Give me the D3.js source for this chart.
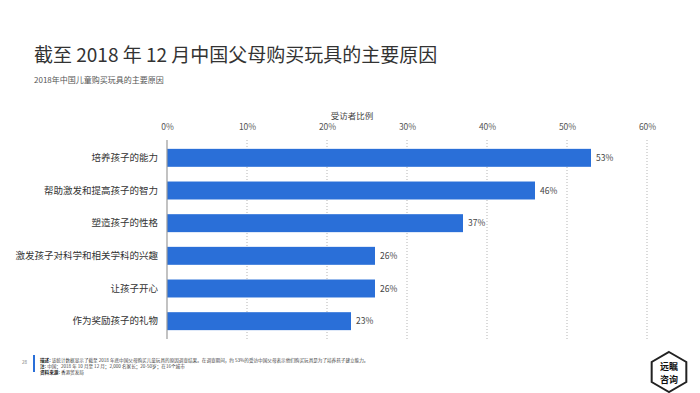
<!DOCTYPE html>
<html><head><meta charset="utf-8">
<script src="https://cdn.jsdelivr.net/npm/d3@7"></script>
<style>body{margin:0;background:#fff}svg{display:block}text{font-family:"Noto Sans CJK SC","Noto Sans",sans-serif}</style>
</head><body><svg id="c" width="700" height="393"></svg>
<script>
const categories = ["培养孩子的能力","帮助激发和提高孩子的智力","塑造孩子的性格","激发孩子对科学和相关学科的兴趣","让孩子开心","作为奖励孩子的礼物"];
const values = [53,46,37,26,26,23];
const tickValues = [0,10,20,30,40,50,60];
const titleText = "截至 2018 年 12 月中国父母购买玩具的主要原因";
const subtitleText = "2018年中国儿童购买玩具的主要原因";
const axisTitle = "受访者比例";
const logoLines = ["远瞩","咨询"];
const footerLines = [
  ["描述: ","该统计数据显示了截至 2018 年底中国父母购买儿童玩具的原因调查结果。在调查期间，约 53%的受访中国父母表示他们购买玩具是为了培养孩子建立能力。"],
  ["注: ","中国；2018 年 10 月至 12 月；2,000 名家长；20-50岁；在16个城市"],
  ["资料来源: ","香港贸发局"]
];

const svg = d3.select("#c");
const x = d3.scaleLinear().domain([0,60]).range([167,647]);
const y = d3.scaleBand().domain(categories).range([141.5,337.5]).paddingInner(0.45).paddingOuter(0.225);

svg.append("text").attr("x",34).attr("y",62).attr("font-size",19).attr("fill","#333").text(titleText);
svg.append("text").attr("x",34).attr("y",83).attr("font-size",8).attr("fill","#555").text(subtitleText);
svg.append("text").attr("x",352).attr("y",119).attr("font-size",8.5).attr("fill","#444").attr("text-anchor","middle").text(axisTitle);

// gridlines
svg.append("g").selectAll("line").data(tickValues.filter(d=>d>0)).join("line")
  .attr("x1",d=>x(d)).attr("x2",d=>x(d)).attr("y1",140).attr("y2",339)
  .attr("stroke","#b5b5b5").attr("stroke-width",1).attr("stroke-dasharray","1,2");

// top axis tick labels
const ax = d3.axisTop(x).tickValues(tickValues).tickFormat(d=>d+"%").tickSize(0);
const axg = svg.append("g").attr("transform","translate(0,133)").call(ax);
axg.select(".domain").remove();
axg.selectAll("text").attr("font-size",8.5).attr("fill","#555").attr("font-family",'"Noto Sans CJK SC","Noto Sans",sans-serif');

// bars
svg.append("g").selectAll("rect").data(categories).join("rect")
  .attr("x",x(0)).attr("y",d=>y(d)).attr("width",(d,i)=>x(values[i])-x(0)).attr("height",y.bandwidth())
  .attr("fill","#2a6fd8");

svg.append("g").selectAll("text").data(categories).join("text")
  .attr("x",(d,i)=>x(values[i])+5).attr("y",d=>y(d)+y.bandwidth()/2+3).attr("font-size",8.5).attr("fill","#444")
  .text((d,i)=>values[i]+"%");

// category labels
const yax = d3.axisLeft(y).tickSize(0).tickPadding(9);
const yg = svg.append("g").attr("transform",`translate(${x(0)},0)`).call(yax);
yg.select(".domain").remove();
yg.selectAll("text").attr("font-size",9.5).attr("fill","#333").attr("font-family",'"Noto Sans CJK SC",sans-serif');

svg.append("line").attr("x1",x(0)).attr("x2",x(0)).attr("y1",140).attr("y2",339).attr("stroke","#9a9a9a").attr("stroke-width",1.2);

// footer
svg.append("text").attr("x",22).attr("y",364).attr("font-size",4.5).attr("fill","#777").text("28");
svg.append("rect").attr("x",33).attr("y",355).attr("width",2).attr("height",17).attr("fill","#2a6fd8");
footerLines.forEach((l,i)=>{
  const t = svg.append("text").attr("x",40).attr("y",362+i*5.8).attr("font-size",4.6).attr("fill","#444");
  t.append("tspan").attr("font-weight","bold").attr("fill","#222").text(l[0]);
  t.append("tspan").text(l[1]);
});

// logo
const cx=669, cy=372, r=20;
const hex = d3.range(6).map(k=>{const a=Math.PI/3*k - Math.PI/2; return [cx+r*Math.cos(a), cy+r*Math.sin(a)];});
svg.append("polygon").attr("points",hex.map(p=>p.join(",")).join(" ")).attr("fill","#fff").attr("stroke","#222").attr("stroke-width",2);
svg.selectAll("text.logo").data(logoLines).join("text").attr("class","logo")
  .attr("x",cx).attr("y",(d,i)=>cy-2.5+i*13.2).attr("text-anchor","middle").attr("font-size",9).attr("font-weight","bold").attr("fill","#111").text(d=>d);
</script></body></html>
